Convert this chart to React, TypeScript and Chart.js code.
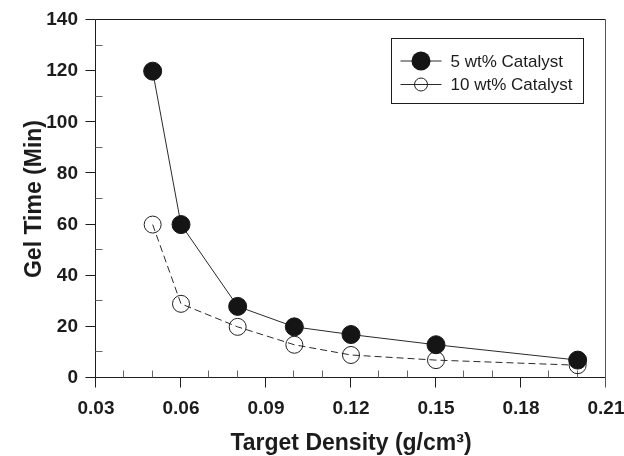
import React, { useEffect, useRef } from "react";
import { Chart, registerables } from "chart.js";

Chart.register(...registerables);

// ---- data ----
const densities = [0.05, 0.06, 0.08, 0.1, 0.12, 0.15, 0.2];
const gel5 = [120, 60, 28, 20, 17, 13, 7];
const gel10 = [60, 29, 20, 13, 9, 7, 5];
const seriesLabels = ["5 wt% Catalyst", "10 wt% Catalyst"];
const xTitle = "Target Density (g/cm\u00B3)";
const yTitle = "Gel Time (Min)";
const xRange = [0.03, 0.21];
const xStep = 0.03;
const yRange = [0, 140];
const yStep = 20;

const FONT = "'Liberation Sans', Arial, Helvetica, sans-serif";
const INK = "#1c1c1c";

const px = (v: number) => Math.round(v) - 0.5;

const framePlugin = {
  id: "frame",
  beforeDatasetsDraw(chart: any) {
    const { ctx, chartArea: a, scales } = chart;
    const x = scales.x;
    const y = scales.y;
    const L = px(a.left), R = px(a.right), T = px(a.top), B = px(a.bottom);
    ctx.save();
    ctx.lineWidth = 1;
    ctx.strokeStyle = INK;
    ctx.beginPath();
    ctx.moveTo(L, T); ctx.lineTo(R, T);
    ctx.moveTo(L, T); ctx.lineTo(L, B);
    ctx.moveTo(L, B); ctx.lineTo(R, B);
    // major ticks (outward)
    const yMaj = y.ticks.map((t: any) => t.value);
    const xMaj = x.ticks.map((t: any) => t.value);
    yMaj.forEach((v: number) => {
      const yy = px(y.getPixelForValue(v));
      ctx.moveTo(L - 10, yy); ctx.lineTo(L, yy);
    });
    xMaj.forEach((v: number) => {
      const xx = px(x.getPixelForValue(v));
      if (Math.abs(xx - R) < 1) return;
      ctx.moveTo(xx, B); ctx.lineTo(xx, B + 10);
    });
    ctx.stroke();
    // right border (slightly lighter)
    ctx.strokeStyle = "#555";
    ctx.beginPath();
    ctx.moveTo(R, T); ctx.lineTo(R, B + 10);
    ctx.stroke();
    // minor ticks (inward)
    ctx.strokeStyle = "#666";
    ctx.beginPath();
    for (let i = 0; i < yMaj.length - 1; i++) {
      const m = (yMaj[i] + yMaj[i + 1]) / 2;
      const yy = px(y.getPixelForValue(m));
      ctx.moveTo(L, yy); ctx.lineTo(L + 7, yy);
    }
    for (let i = 0; i < xMaj.length - 1; i++) {
      for (let k = 1; k < 3; k++) {
        const m = xMaj[i] + ((xMaj[i + 1] - xMaj[i]) * k) / 3;
        const xx = px(x.getPixelForValue(m));
        ctx.moveTo(xx, B); ctx.lineTo(xx, B - 7);
      }
    }
    ctx.stroke();
    ctx.restore();
  },
};

const legendPlugin = {
  id: "boxLegend",
  afterDraw(chart: any) {
    const { ctx, chartArea: a } = chart;
    const w = 192, h = 65;
    const left = px(a.right - 22 - w);
    const top = px(a.top + 19);
    ctx.save();
    ctx.lineWidth = 1;
    ctx.strokeStyle = INK;
    ctx.strokeRect(left, top, w, h);
    const rows = [top + 22.5, top + 46];
    chart.data.datasets.forEach((ds: any, i: number) => {
      const cy = rows[i];
      ctx.strokeStyle = "#2a2a2a";
      ctx.lineWidth = 1;
      ctx.beginPath();
      ctx.moveTo(left + 9, cy); ctx.lineTo(left + 50, cy);
      ctx.stroke();
      ctx.beginPath();
      const r = i === 0 ? 9.5 : 6.5;
      ctx.arc(left + 29.5, cy, r, 0, Math.PI * 2);
      if (i === 0) {
        ctx.fillStyle = "#151515";
        ctx.fill();
      } else {
        ctx.strokeStyle = "#222";
        ctx.stroke();
      }
      ctx.fillStyle = INK;
      ctx.font = `17px ${FONT}`;
      ctx.textBaseline = "middle";
      ctx.textAlign = "left";
      ctx.fillText(ds.label, left + 59, cy + 1);
    });
    ctx.restore();
  },
};

export default function App() {
  const ref = useRef<HTMLCanvasElement | null>(null);
  useEffect(() => {
    document.body.style.margin = "0";
    const canvas = ref.current;
    if (!canvas) return;
    const chart = new Chart(canvas, {
      type: "line",
      data: {
        datasets: [
          {
            label: seriesLabels[0],
            data: densities.map((d, i) => ({ x: d, y: gel5[i] })),
            borderColor: "#2a2a2a",
            borderWidth: 1,
            pointRadius: 9,
            pointBackgroundColor: "#151515",
            pointBorderColor: "#151515",
            pointBorderWidth: 1,
            tension: 0,
          },
          {
            label: seriesLabels[1],
            data: densities.map((d, i) => ({ x: d, y: gel10[i] })),
            borderColor: "#2a2a2a",
            borderWidth: 1,
            borderDash: [7, 4],
            pointRadius: 8.5,
            pointBackgroundColor: "rgba(0,0,0,0)",
            pointBorderColor: "#222",
            pointBorderWidth: 1,
            tension: 0,
          },
        ],
      },
      options: {
        animation: false,
        responsive: false,
        devicePixelRatio: 1,
        layout: { padding: { top: 20, right: 18, left: 0, bottom: 0 } },
        plugins: { legend: { display: false }, tooltip: { enabled: false } },
        scales: {
          x: {
            type: "linear",
            min: xRange[0],
            max: xRange[1],
            grid: { display: false, drawTicks: false },
            border: { display: false },
            ticks: {
              stepSize: xStep,
              maxRotation: 0,
              padding: 19,
              color: INK,
              font: { family: FONT, size: 19, weight: "bold" },
              callback: (v: any) => Number(v).toFixed(2),
            },
            title: {
              display: true,
              text: xTitle,
              color: INK,
              font: { family: FONT, size: 23, weight: "bold", lineHeight: 1 },
              padding: { top: 0, bottom: 1 },
            },
            afterFit: (s: any) => {
              s.height = 78;
              s.paddingLeft = 0;
              s.paddingRight = 0;
            },
          },
          y: {
            type: "linear",
            min: yRange[0],
            max: yRange[1],
            grid: { display: false, drawTicks: false },
            border: { display: false },
            ticks: {
              stepSize: yStep,
              padding: 18,
              color: INK,
              font: { family: FONT, size: 19, weight: "bold" },
            },
            title: {
              display: true,
              text: yTitle,
              color: INK,
              font: { family: FONT, size: 23, weight: "bold", lineHeight: 1.2 },
              padding: { top: 21, bottom: 0 },
            },
            afterFit: (s: any) => {
              s.width = 96;
              s.paddingTop = 0;
              s.paddingBottom = 0;
            },
          },
        },
      },
      plugins: [framePlugin, legendPlugin],
    });
    return () => chart.destroy();
  }, []);
  return <canvas ref={ref} width={624} height={456} style={{ display: "block" }} />;
}
